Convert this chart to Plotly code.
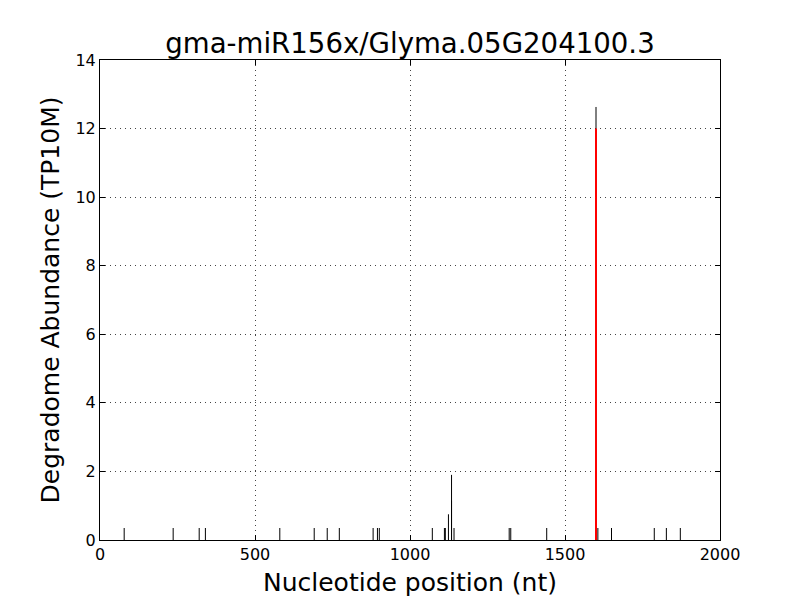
import plotly.graph_objects as go

positions = [78, 236, 320, 340, 580, 691, 733, 772, 881, 895, 901, 1072, 1111, 1114,
             1124, 1134, 1134, 1142, 1320, 1325, 1441, 1600, 1606, 1650, 1788, 1827, 1872]
abundance = [0.35, 0.35, 0.35, 0.35, 0.35, 0.35, 0.35, 0.35, 0.35, 0.35, 0.35, 0.35, 0.35, 0.35,
             0.75, 1.9, 1.15, 0.35, 0.35, 0.35, 0.35, 12.63, 0.35, 0.35, 0.35, 0.35, 0.35]
target_position = [1600]
target_abundance = [12.0]

xs, ys = [], []
for p, h in zip(positions, abundance):
    xs += [p, p, None]
    ys += [0, h, None]

tx, ty = [], []
for p, h in zip(target_position, target_abundance):
    tx += [p, p, None]
    ty += [0, h, None]

fig = go.Figure()
fig.add_trace(go.Scatter(x=xs, y=ys, mode="lines", line=dict(color="black", width=1),
                         showlegend=False, hoverinfo="skip"))
fig.add_trace(go.Scatter(x=tx, y=ty, mode="lines", line=dict(color="red", width=2),
                         showlegend=False, hoverinfo="skip"))

axis_common = dict(
    showline=True, linecolor="black", linewidth=1, mirror="ticks",
    ticks="inside", ticklen=5, tickcolor="black",
    showgrid=True, gridcolor="#444444", griddash="1px,4px", gridwidth=1,
    zeroline=False, tickfont=dict(family="DejaVu Sans", size=16, color="black"),
    automargin=False,
)

fig.update_layout(
    width=800, height=600,
    paper_bgcolor="white", plot_bgcolor="white",
    margin=dict(l=92, r=88, t=52, b=68),
    title=dict(text="gma-miR156x/Glyma.05G204100.3", x=0.5025, xanchor="center",
               y=0.9417, yanchor="middle",
               font=dict(family="DejaVu Sans", size=27.6, color="black")),
    xaxis=dict(range=[0, 2000], tickvals=[0, 500, 1000, 1500, 2000],
               title=dict(text="Nucleotide position (nt)", standoff=10,
                          font=dict(family="DejaVu Sans", size=25, color="black")),
               **axis_common),
    yaxis=dict(range=[0, 14], tickvals=[0, 2, 4, 6, 8, 10, 12, 14],
               title=dict(text="Degradome Abundance (TP10M)", standoff=8,
                          font=dict(family="DejaVu Sans", size=25, color="black")),
               **axis_common),
)

fig.write_html("out.html")
